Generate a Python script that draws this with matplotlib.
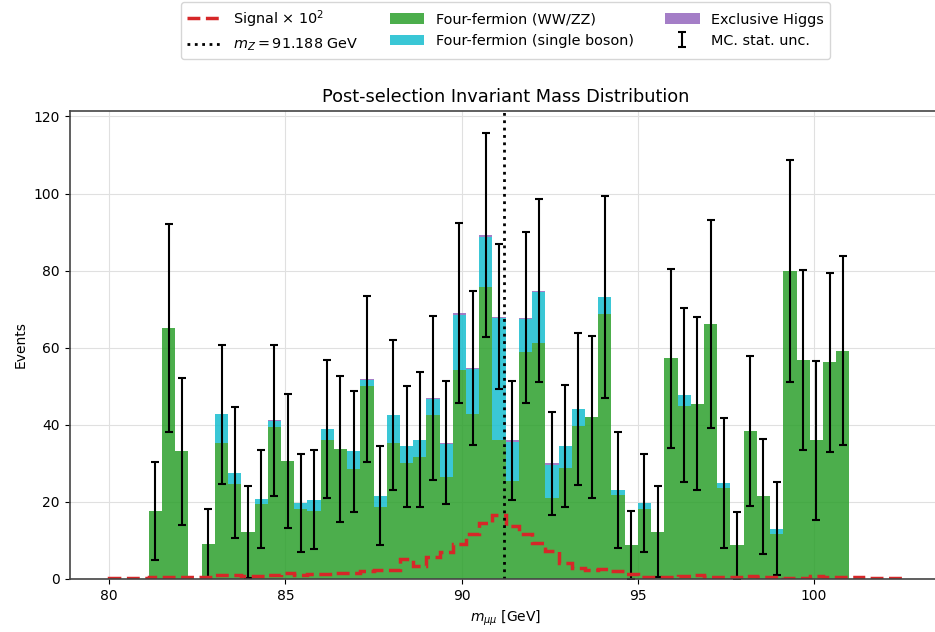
import numpy as np
import matplotlib
matplotlib.use("Agg")
import matplotlib.pyplot as plt
from matplotlib.lines import Line2D
from matplotlib.patches import Patch

# binning: 60 bins between 80 and 102.5 GeV
bin_edges = np.linspace(80, 102.5, 61)
centers = 0.5 * (bin_edges[:-1] + bin_edges[1:])

# Four-fermion (WW/ZZ), per bin
ww_zz = [0, 0, 0, 17.6, 65.1, 33.1, 0, 9.2, 35.4, 24.6,
         12.2, 19.4, 39.5, 30.6, 18.2, 17.7, 36.0, 33.7, 28.6, 50.1,
         18.7, 35.3, 30.1, 31.7, 42.5, 26.5, 54.2, 42.9, 75.7, 36.0,
         25.5, 58.8, 61.2, 21.1, 28.9, 39.6, 42.1, 68.7, 21.8, 8.8,
         18.2, 12.3, 57.3, 44.9, 45.5, 66.2, 23.5, 8.7, 38.4, 21.5,
         11.7, 79.9, 56.8, 36.0, 56.2, 59.2, 0, 0, 0, 0]

# Four-fermion (single boson)
single_boson = [0, 0, 0, 0, 0, 0, 0, 0, 7.3, 3.0,
                0, 1.3, 1.5, 0, 1.5, 2.9, 2.9, 0, 4.6, 1.5,
                2.9, 7.2, 4.3, 4.4, 4.3, 8.5, 14.4, 11.5, 13.1, 31.7,
                10.1, 8.6, 13.2, 8.5, 5.7, 4.4, 0, 4.4, 1.3, 0,
                1.5, 0, 0, 2.8, 0, 0, 1.4, 0, 0, 0,
                1.4, 0, 0, 0, 0, 0, 0, 0, 0, 0]

# Exclusive Higgs
higgs = [0, 0, 0, 0, 0, 0, 0, 0, 0, 0,
         0, 0, 0.2, 0, 0, 0, 0, 0, 0, 0.2,
         0, 0, 0, 0, 0.2, 0.4, 0.4, 0.4, 0.4, 0.4,
         0.4, 0.4, 0.4, 0.4, 0, 0, 0, 0, 0, 0,
         0, 0, 0, 0, 0, 0, 0, 0, 0, 0,
         0, 0, 0, 0, 0, 0, 0, 0, 0, 0]

# MC statistical uncertainty on the total
mc_unc = [0, 0, 0, 12.7, 26.9, 19.1, 0, 9.0, 18.1, 17.0,
          12.0, 12.7, 19.6, 17.4, 12.8, 12.8, 18.0, 19.0, 15.7, 21.5,
          12.8, 19.4, 15.7, 17.5, 21.2, 15.9, 23.3, 20.0, 26.5, 18.8,
          15.4, 22.2, 23.7, 13.3, 15.8, 19.7, 21.0, 26.2, 15.0, 8.8,
          12.7, 11.9, 23.2, 22.6, 22.4, 26.9, 16.8, 8.7, 19.5, 14.9,
          12.0, 28.7, 23.3, 20.6, 23.2, 24.5, 0, 0, 0, 0]

# signal (already scaled by 100)
signal_x100 = [0.2, 0.2, 0.3, 0.6, 0.6, 0.5, 0.5, 0.4, 1.0, 1.0,
               0.8, 0.8, 1.0, 1.5, 1.1, 1.3, 1.4, 1.5, 1.6, 2.2,
               2.4, 2.3, 5.3, 3.4, 5.7, 6.9, 9.2, 11.8, 14.6, 16.6,
               13.8, 11.8, 9.3, 7.3, 4.1, 2.8, 2.3, 2.6, 2.1, 1.3,
               0.6, 0.5, 0.6, 0.8, 1.1, 0.6, 0.5, 0.6, 0.8, 0.6,
               0.6, 0.3, 0.3, 0.7, 0.5, 0.4, 0.6, 0.3, 0.2, 0.2]

m_z = 91.188
colors = ["tab:green", "tab:cyan", "tab:purple"]

fig = plt.figure(figsize=(9.35, 6.32), dpi=100)
ax = fig.add_axes([69.5/935, 1-579/632, (941.9-69.5)/935, (579-110.7)/632])

ax.hist([centers, centers, centers], bins=bin_edges,
        weights=[ww_zz, single_boson, higgs], stacked=True,
        histtype="stepfilled", color=colors, alpha=0.85, linewidth=0)

total = np.array(ww_zz) + np.array(single_boson) + np.array(higgs)
mask = total > 0
eb = ax.errorbar(centers[mask], total[mask], yerr=np.array(mc_unc)[mask], fmt="none",
                 ecolor="black", elinewidth=1.5, capsize=3, capthick=1.5)

ax.hist(centers, bins=bin_edges, weights=signal_x100, histtype="step",
        color="#d62728", linestyle="--", linewidth=2.5)

ax.axvline(m_z, color="black", linestyle=":", linewidth=2)

ax.set_xlim(78.875, 103.625)
ax.set_ylim(0, 121.5)
ax.set_xlabel(r"$m_{\mu\mu}$ [GeV]", fontsize=10)
ax.set_ylabel("Events", fontsize=10)
ax.set_title("Post-selection Invariant Mass Distribution", fontsize=12.8)
ax.grid(True, color="#e0e0e0", linewidth=0.8)
ax.set_axisbelow(True)
for s in ax.spines.values():
    s.set_color("#444444")
    s.set_linewidth(1.2)
ax.tick_params(colors="black", labelsize=10)

handles = [Line2D([], [], color="#d62728", linestyle="--", linewidth=2.5),
           Line2D([], [], color="black", linestyle=":", linewidth=2),
           Patch(facecolor=colors[0], alpha=0.85),
           Patch(facecolor=colors[1], alpha=0.85),
           Patch(facecolor=colors[2], alpha=0.85), eb]
labels = [r"Signal $\times$ $10^2$", r"$m_Z = 91.188$ GeV",
          "Four-fermion (WW/ZZ)", "Four-fermion (single boson)",
          "Exclusive Higgs", "MC. stat. unc."]
fig.legend(handles, labels, ncol=3, loc="upper center",
           bbox_to_anchor=(505.5/935, 1.0), borderaxespad=0.15,
           fontsize=10.4, frameon=True, handlelength=2.4, columnspacing=2.15)

fig.savefig("out.png", dpi=100)
